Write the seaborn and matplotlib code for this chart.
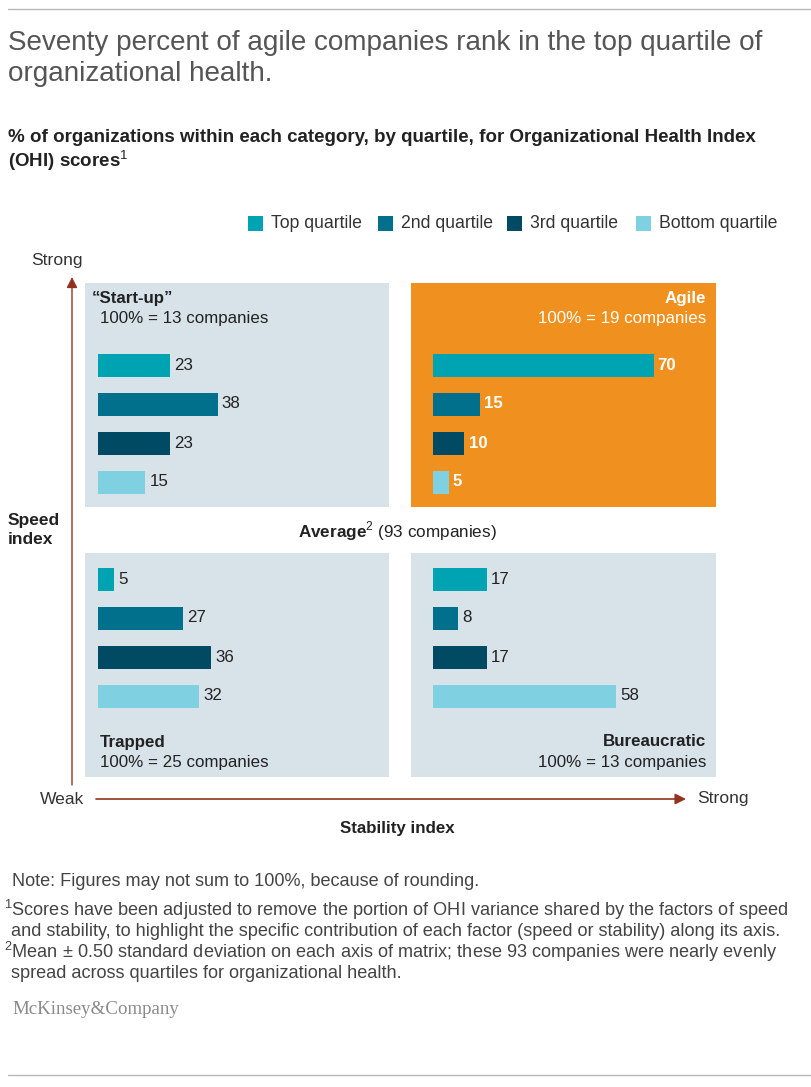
import matplotlib
matplotlib.use("Agg")
import matplotlib.pyplot as plt
import seaborn as sns
import pandas as pd
from matplotlib.patches import Rectangle

# ---- data ----
quartiles = ["Top quartile", "2nd quartile", "3rd quartile", "Bottom quartile"]
quartile_colors = ["#00A3B1", "#00708D", "#004B63", "#7FD0E1"]
startup = [23, 38, 23, 15]
agile = [70, 15, 10, 5]
trapped = [5, 27, 36, 32]
bureaucratic = [17, 8, 17, 58]
panel_names = ["\u201cStart-up\u201d", "Agile", "Trapped", "Bureaucratic"]
panel_counts = [13, 19, 25, 13]

sns.set_style("white")
plt.rcParams["font.family"] = ["Liberation Sans", "DejaVu Sans"]
plt.rcParams["mathtext.fontset"] = "custom"
plt.rcParams["mathtext.rm"] = "Liberation Sans"
plt.rcParams["mathtext.bf"] = "Liberation Sans:bold"

W, H = 811, 1087
fig = plt.figure(figsize=(W / 100, H / 100), dpi=100)
fig.patch.set_facecolor("white")

PANEL_BG = "#D7E2E9"
ORANGE = "#F0901E"
ARROW = "#93321F"
PX_PER_UNIT = 3.15
ROW_PX = 39.0
PFS = 12.2   # panel font size


def add_panel(x0, y0, w, h, bar_x0, bar_y0, values, bg, label_color, label_weight):
    ax = fig.add_axes([x0 / W, 1 - (y0 + h) / H, w / W, h / H])
    df = pd.DataFrame({"quartile": quartiles, "value": values})
    sns.barplot(data=df, x="value", y="quartile", hue="quartile",
                palette=quartile_colors, hue_order=quartiles, order=quartiles,
                orient="h", width=23 / ROW_PX, saturation=1, legend=False,
                edgecolor="none", ax=ax)
    left = (bar_x0 - x0) / PX_PER_UNIT
    ax.set_xlim(-left, w / PX_PER_UNIT - left)
    top = (bar_y0 - y0) / ROW_PX
    ax.set_ylim((y0 + h - bar_y0) / ROW_PX, -top)
    ax.set_facecolor(bg)
    for s in ax.spines.values():
        s.set_visible(False)
    ax.set_xticks([])
    ax.set_yticks([])
    ax.set_xlabel("")
    ax.set_ylabel("")
    for c in ax.containers:
        ax.bar_label(c, fmt="%d", padding=3, fontsize=PFS,
                     color=label_color, fontweight=label_weight)
    return ax


add_panel(85, 283, 304, 224, 98, 365, startup, PANEL_BG, "#222222", "normal")
add_panel(411, 283, 305, 224, 433, 365, agile, ORANGE, "white", "bold")
add_panel(85, 553, 304, 224, 98, 579, trapped, PANEL_BG, "#222222", "normal")
add_panel(411, 553, 305, 224, 433, 579, bureaucratic, PANEL_BG, "#222222", "normal")

# overlay axes in pixel coordinates
ov = fig.add_axes([0, 0, 1, 1], facecolor="none")
ov.set_xlim(0, W)
ov.set_ylim(H, 0)
ov.set_axis_off()

# rules
ov.plot([8, 811], [9, 9], color="#B8B8B8", lw=1)
ov.plot([8, 811], [1075, 1075], color="#B8B8B8", lw=1)

# title
TFS = 20.1
ov.text(8, 43, "Seventy percent of agile companies rank in the top quartile of",
        fontsize=TFS, color="#555555", va="center", ha="left")
ov.text(8, 74, "organizational health.", fontsize=TFS, color="#555555",
        va="center", ha="left")
SFS = 13.5
ov.text(8, 137, "% of organizations within each category, by quartile, for Organizational Health Index",
        fontsize=SFS, fontweight="bold", color="#222222", va="center", ha="left")
ov.text(8, 161, r"(OHI) scores$^{\mathrm{1}}$", fontsize=SFS, fontweight="bold",
        color="#222222", va="center", ha="left")

# legend
leg_x = [248, 378, 507, 636]
for lx, lab, col in zip(leg_x, quartiles, quartile_colors):
    ov.add_patch(Rectangle((lx, 216), 15, 15, facecolor=col, edgecolor="none"))
    ov.text(lx + 23, 223.5, lab, fontsize=12.7, color="#333333",
            va="center", ha="left")

# panel titles
ov.text(92, 298, panel_names[0], fontsize=PFS, fontweight="bold",
        color="#222222", va="center", ha="left")
ov.text(100, 319, f"100% = {panel_counts[0]} companies", fontsize=PFS,
        color="#222222", va="center", ha="left")
ov.text(706, 298, panel_names[1], fontsize=PFS, fontweight="bold",
        color="white", va="center", ha="right")
ov.text(706, 319, f"100% = {panel_counts[1]} companies", fontsize=PFS,
        color="white", va="center", ha="right")
ov.text(100, 742, panel_names[2], fontsize=PFS, fontweight="bold",
        color="#222222", va="center", ha="left")
ov.text(100, 763, f"100% = {panel_counts[2]} companies", fontsize=PFS,
        color="#222222", va="center", ha="left")
ov.text(706, 742, panel_names[3], fontsize=PFS, fontweight="bold",
        color="#222222", va="center", ha="right")
ov.text(706, 763, f"100% = {panel_counts[3]} companies", fontsize=PFS,
        color="#222222", va="center", ha="right")

# axes arrows
ov.annotate("", xy=(72, 277), xytext=(72, 785),
            arrowprops=dict(arrowstyle="-|>", color=ARROW, lw=1.0,
                            mutation_scale=16, shrinkA=0, shrinkB=0))
ov.annotate("", xy=(686, 799), xytext=(96, 799),
            arrowprops=dict(arrowstyle="-|>", color=ARROW, lw=1.2,
                            mutation_scale=16, shrinkA=0, shrinkB=0))
AFS = 12.6
ov.text(57, 260, "Strong", fontsize=AFS, color="#333333", va="center", ha="center")
ov.text(40, 799, "Weak", fontsize=AFS, color="#333333", va="center", ha="left")
ov.text(697, 799, "Strong", fontsize=AFS, color="#333333", va="center", ha="left")
ov.text(8, 530, "Speed\nindex", fontsize=12.5, fontweight="bold", color="#222222",
        va="center", ha="left", linespacing=1.3)
ov.text(397, 829, "Stability index", fontsize=12.2, fontweight="bold",
        color="#222222", va="center", ha="center")
ov.text(397, 531, r"$\mathbf{Average}^{2}$ (93 companies)", fontsize=12.3,
        color="#222222", va="center", ha="center")

# footnotes
fn = dict(fontsize=13.1, color="#444444", va="center", ha="left")
ov.text(12, 882, "Note: Figures may not sum to 100%, because of rounding.", **fn)
ov.text(4, 910, r"$^{1}$Scores have been adjusted to remove the portion of OHI variance shared by the factors of speed", **fn)
ov.text(11, 931, "and stability, to highlight the specific contribution of each factor (speed or stability) along its axis.", **fn)
ov.text(4, 952, r"$^{2}$Mean $\pm$ 0.50 standard deviation on each axis of matrix; these 93 companies were nearly evenly", **fn)
ov.text(11, 973, "spread across quartiles for organizational health.", **fn)
ov.text(12, 1010, "McKinsey&Company", fontsize=13.6, color="#8A8A8A",
        family="Liberation Serif", va="center", ha="left")

fig.savefig("out.png", dpi=100)
